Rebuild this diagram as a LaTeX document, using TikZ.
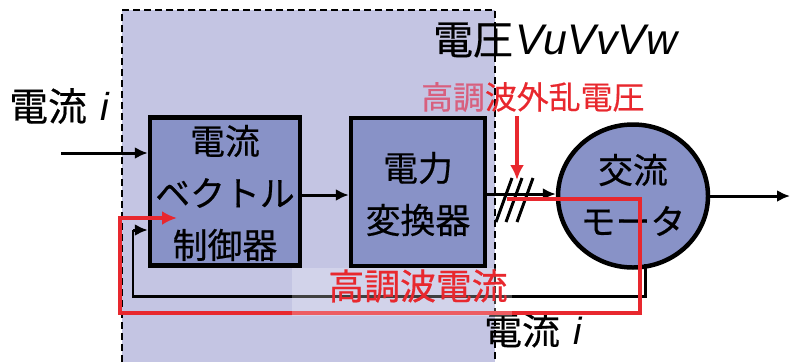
\documentclass[tikz,border=0pt]{standalone}
\usepackage{fontspec}
\setmainfont{Noto Sans CJK JP}[FakeBold=0.5]
\newfontfamily\latinit{Liberation Sans}
\usetikzlibrary{arrows.meta,shapes.geometric}
\definecolor{bgl}{HTML}{C4C5E3}
\definecolor{boxf}{HTML}{8892C7}
\definecolor{redc}{HTML}{E8282E}
\definecolor{pinkc}{HTML}{D8607E}
\tikzset{
  blk/.style={draw=black,line width=4.5pt,fill=boxf,minimum width=150bp,minimum height=148bp,inner sep=0pt},
  lbl/.style={font=\fontsize{35}{52}\selectfont,align=center,inner sep=0pt},
  arr/.style={line width=3pt,-{Latex[length=13bp,width=12bp]}},
  rarr/.style={line width=4.2pt,draw=redc,-{Latex[length=15bp,width=14bp]}},
  rline/.style={line width=4.2pt,draw=redc},
}
\begin{document}
\begin{tikzpicture}[x=1bp,y=-1bp]
\useasboundingbox (0,0) rectangle (790,362);
% dashed region
\fill[bgl] (122,10) rectangle (495,362);
\draw[line width=2.6pt,dash pattern=on 7bp off 4bp] (122,362) -- (122,10) -- (495,10) -- (495,362);
% blocks
\node[blk] (ctrl) at (225,191.5) {};
\node[lbl] at (225,141) {電流};
\node[lbl] at (225,193) {ベクトル};
\node[lbl] at (225,245) {制御器};
\node[blk,minimum width=134bp] (conv) at (418,192) {};
\node[lbl] at (418,168) {電力};
\node[lbl] at (418,220) {変換器};
\node[draw=black,line width=4.5pt,fill=boxf,ellipse,minimum width=150bp,minimum height=143bp,inner sep=0pt] (mot) at (633,196) {};
\node[lbl] at (633,170) {交流};
\node[lbl] at (633,221) {モータ};
% coordinates
\coordinate (in0) at (61,153);
\coordinate (in1) at (ctrl.west |- in0);
\coordinate (out1) at (790,196);
\coordinate (fb1) at (645,296);
\coordinate (fb2) at (133,296);
\coordinate (fb3) at (133,230);
\coordinate (fb4) at (ctrl.west |- fb3);
% black connectors
\draw[arr] (in0) -- (in1);
\draw[arr] (ctrl.east |- 0,195) -- (conv.west |- 0,195);
\draw[arr] (conv.east |- 0,194) -- (mot.west |- 0,194);
\draw[arr] (mot.east) -- (out1);
\draw[line width=3pt] (645,264) -- (fb1) -- (fb2) -- (fb3);
\draw[arr] (fb3) -- (fb4);
% slashes
\foreach \x in {504,514,525}
  \draw[line width=3pt] (\x-8,222) -- (\x+8,178);
% labels
\node[font=\fontsize{39}{40}\selectfont,anchor=west,inner sep=0pt] (li) at (9,106) {電流\hspace{14bp}{\latinit\itshape i}};
\node[font=\fontsize{40}{42}\selectfont,anchor=west,inner sep=0pt] (lv) at (433,40) {電圧\hspace{3bp}{\latinit\fontsize{43}{44}\selectfont\itshape VuVvVw}};
\node[font=\fontsize{32}{34}\selectfont,anchor=west,inner sep=0pt,text=redc] (lh) at (421,97) {{\color{pinkc}高調}波外乱電圧};
\node[font=\fontsize{38}{40}\selectfont,anchor=west,inner sep=0pt] (lb) at (484,330) {電流\hspace{14bp}{\latinit\itshape i}};
% red disturbance arrow
\coordinate (d0) at (517,116);
\coordinate (d1) at (517,180);
\draw[rarr,line width=3.4pt] (d0) -- (d1);
% red harmonic current loop
\coordinate (r0) at (507,199);
\coordinate (r1) at (640,199);
\coordinate (r2) at (640,313);
\coordinate (r3) at (120,313);
\coordinate (r4) at (120,218);
\coordinate (r5) at (177,218);
\draw[rline] (r0) -- (r1) -- (r2) -- (r3) -- (r4) -- ++(10,0);
\draw[rarr] (r4) -- (r5);
% label with glow
\fill[white,opacity=0.25] (292,268) rectangle (512,316);
\node[font=\fontsize{36}{38}\selectfont,text=redc,inner sep=0pt] (lc) at (418,286) {高調波電流};
\end{tikzpicture}
\end{document}
